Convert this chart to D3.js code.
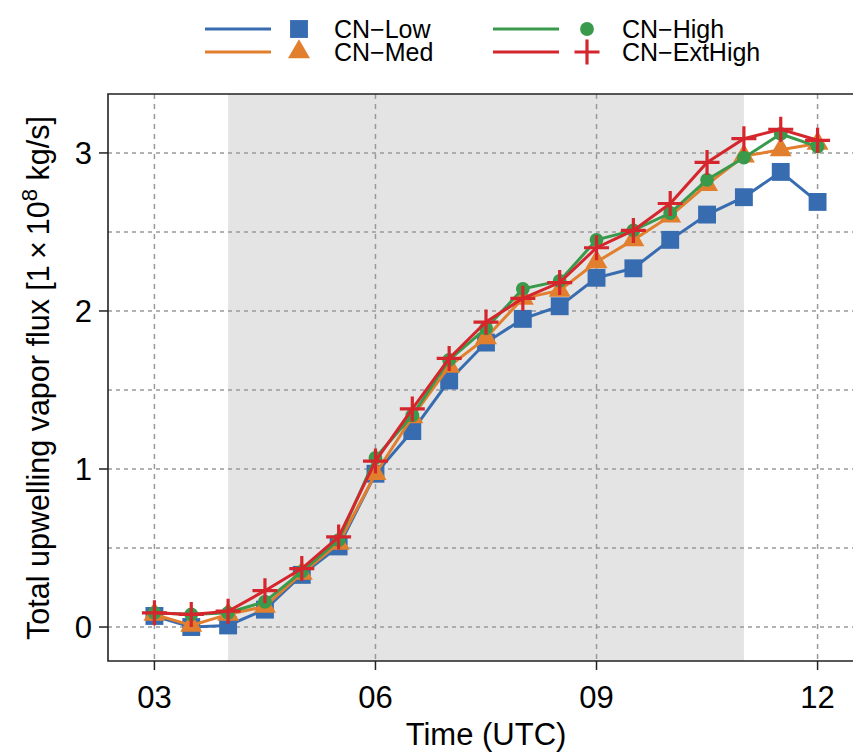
<!DOCTYPE html>
<html>
  <head>
    <title>Total upwelling vapor flux</title>
    <meta charset="utf-8">
    <script src="https://d3js.org/d3.v7.min.js"></script>
    <style>
      body { margin: 0; background: #fff; }
      text { font-family: "Liberation Sans", Arial, sans-serif; fill: #000; }
    </style>
  </head>

  <body>

    <svg width="853" height="754"></svg>

    <script>

      // hours (UTC), every 30 minutes
      var hours = [3, 3.5, 4, 4.5, 5, 5.5, 6, 6.5, 7, 7.5, 8, 8.5, 9, 9.5, 10, 10.5, 11, 11.5, 12];

      var cnLow     = [0.07, 0.00, 0.01, 0.11, 0.33, 0.51, 0.97, 1.24, 1.56, 1.80, 1.95, 2.03, 2.21, 2.27, 2.45, 2.61, 2.72, 2.88, 2.69];
      var cnMed     = [0.08, 0.01, 0.08, 0.13, 0.34, 0.53, 0.97, 1.33, 1.65, 1.83, 2.08, 2.13, 2.31, 2.45, 2.60, 2.80, 2.98, 3.02, 3.06];
      var cnHigh    = [0.09, 0.08, 0.09, 0.16, 0.35, 0.55, 1.07, 1.34, 1.69, 1.89, 2.14, 2.19, 2.45, 2.51, 2.62, 2.83, 2.97, 3.12, 3.04];
      var cnExtHigh = [0.09, 0.08, 0.10, 0.23, 0.37, 0.57, 1.05, 1.38, 1.70, 1.93, 2.08, 2.18, 2.40, 2.51, 2.68, 2.94, 3.09, 3.15, 3.08];

      var seriesNames = ["CN\u2212Low", "CN\u2212Med", "CN\u2212High", "CN\u2212ExtHigh"];
      var seriesColors = ["#386cb0", "#e27f2e", "#3a9a4c", "#d4262c"];
      var seriesShapes = ["square", "triangle", "circle", "plus"];

      var xTicks = [3, 6, 9, 12];
      var xTickLabels = ["03", "06", "09", "12"];
      var yTicks = [0, 1, 2, 3];
      var yGrid = [0, 0.5, 1, 1.5, 2, 2.5, 3];
      var shadeRange = [4, 11];

      var series = [cnLow, cnMed, cnHigh, cnExtHigh].map(function(vals, i) {
        return {
          name: seriesNames[i],
          color: seriesColors[i],
          shape: seriesShapes[i],
          values: vals.map(function(v, j) { return {t: hours[j], v: v}; })
        };
      });

      var svg = d3.select("svg");
      var plot = {left: 108, right: 864, top: 94, bottom: 661};

      var x = d3.scaleLinear().domain([2.37, 12.63]).range([plot.left, plot.right]);
      var y = d3.scaleLinear().domain([-0.215, 3.373]).range([plot.bottom, plot.top]);

      // shaded period
      svg.append("rect")
          .attr("x", x(shadeRange[0]))
          .attr("y", plot.top)
          .attr("width", x(shadeRange[1]) - x(shadeRange[0]))
          .attr("height", plot.bottom - plot.top)
          .attr("fill", "#e4e4e4");

      // grid
      svg.append("g").selectAll("line")
          .data(yGrid)
        .enter().append("line")
          .attr("x1", plot.left).attr("x2", 853)
          .attr("y1", function(d) { return y(d); })
          .attr("y2", function(d) { return y(d); })
          .attr("stroke", "#999").attr("stroke-width", 1.5)
          .attr("stroke-dasharray", "4,4");

      svg.append("g").selectAll("line")
          .data(xTicks)
        .enter().append("line")
          .attr("y1", plot.top).attr("y2", plot.bottom)
          .attr("x1", function(d) { return x(d); })
          .attr("x2", function(d) { return x(d); })
          .attr("stroke", "#999").attr("stroke-width", 1.5)
          .attr("stroke-dasharray", "5,5");

      // symbols
      function symbolPath(shape) {
        if (shape == "plus") return "M-12.5,0H12.5M0,-12.5V12.5";
        var type = {square: d3.symbolSquare, triangle: d3.symbolTriangle, circle: d3.symbolCircle}[shape];
        var size = {square: 320, triangle: 210, circle: 150}[shape];
        return d3.symbol().type(type).size(size)();
      }

      function drawSymbol(sel, s) {
        sel.append("path")
            .attr("d", symbolPath(s.shape))
            .attr("fill", s.shape == "plus" ? "none" : s.color)
            .attr("stroke", s.shape == "plus" ? s.color : "none")
            .attr("stroke-width", 3.2);
      }

      var line = d3.line()
          .x(function(d) { return x(d.t); })
          .y(function(d) { return y(d.v); });

      series.forEach(function(s) {
        var g = svg.append("g").attr("class", "series");
        g.append("path")
            .datum(s.values)
            .attr("d", line)
            .attr("fill", "none")
            .attr("stroke", s.color)
            .attr("stroke-width", 3);
        g.selectAll(".pt")
            .data(s.values)
          .enter().append("g")
            .attr("class", "pt")
            .attr("transform", function(d) { return "translate(" + x(d.t) + "," + y(d.v) + ")"; })
            .each(function() { drawSymbol(d3.select(this), s); });
      });

      // frame
      svg.append("path")
          .attr("d", "M853," + plot.top + "H" + plot.left + "V" + plot.bottom + "H853")
          .attr("fill", "none")
          .attr("stroke", "#222")
          .attr("stroke-width", 1.6);

      // x axis
      var xAxis = svg.append("g").attr("transform", "translate(0," + plot.bottom + ")");
      xTicks.forEach(function(t, i) {
        xAxis.append("line").attr("x1", x(t)).attr("x2", x(t)).attr("y1", 0).attr("y2", 9)
            .attr("stroke", "#222").attr("stroke-width", 1.5);
        xAxis.append("text").attr("x", x(t)).attr("y", 47)
            .attr("text-anchor", "middle").attr("font-size", 31)
            .text(xTickLabels[i]);
      });
      svg.append("text")
          .attr("x", 486).attr("y", 745)
          .attr("text-anchor", "middle").attr("font-size", 31)
          .text("Time (UTC)");

      // y axis
      var yAxis = svg.append("g").attr("transform", "translate(" + plot.left + ",0)");
      yTicks.forEach(function(t) {
        yAxis.append("line").attr("x1", -9).attr("x2", 0).attr("y1", y(t)).attr("y2", y(t))
            .attr("stroke", "#222").attr("stroke-width", 1.5);
        yAxis.append("text").attr("x", -16).attr("y", y(t) + 11)
            .attr("text-anchor", "end").attr("font-size", 31)
            .text(t);
      });
      var yTitle = svg.append("text")
          .attr("transform", "translate(49," + 378 + ") rotate(-90)")
          .attr("text-anchor", "middle").attr("font-size", 30.5);
      yTitle.append("tspan").text("Total upwelling vapor flux [1\u2009\u00d7\u200910");
      yTitle.append("tspan").attr("dy", -12).attr("font-size", 22).text("8");
      yTitle.append("tspan").attr("dy", 12).text(" kg/s]");

      // legend
      var legendPos = [{x: 205, y: 29}, {x: 205, y: 52}, {x: 493, y: 29}, {x: 493, y: 52}];
      series.forEach(function(s, i) {
        var p = legendPos[i];
        var g = svg.append("g").attr("transform", "translate(" + p.x + "," + p.y + ")");
        g.append("line").attr("x1", 0).attr("x2", 66).attr("y1", 0).attr("y2", 0)
            .attr("stroke", s.color).attr("stroke-width", 3);
        var m = g.append("g").attr("transform", "translate(" + 94 + ",0)");
        drawSymbol(m, s);
        g.append("text").attr("x", 129).attr("y", 8.5)
            .attr("font-size", 25).text(s.name);
      });

    </script>
  </body>
</html>
